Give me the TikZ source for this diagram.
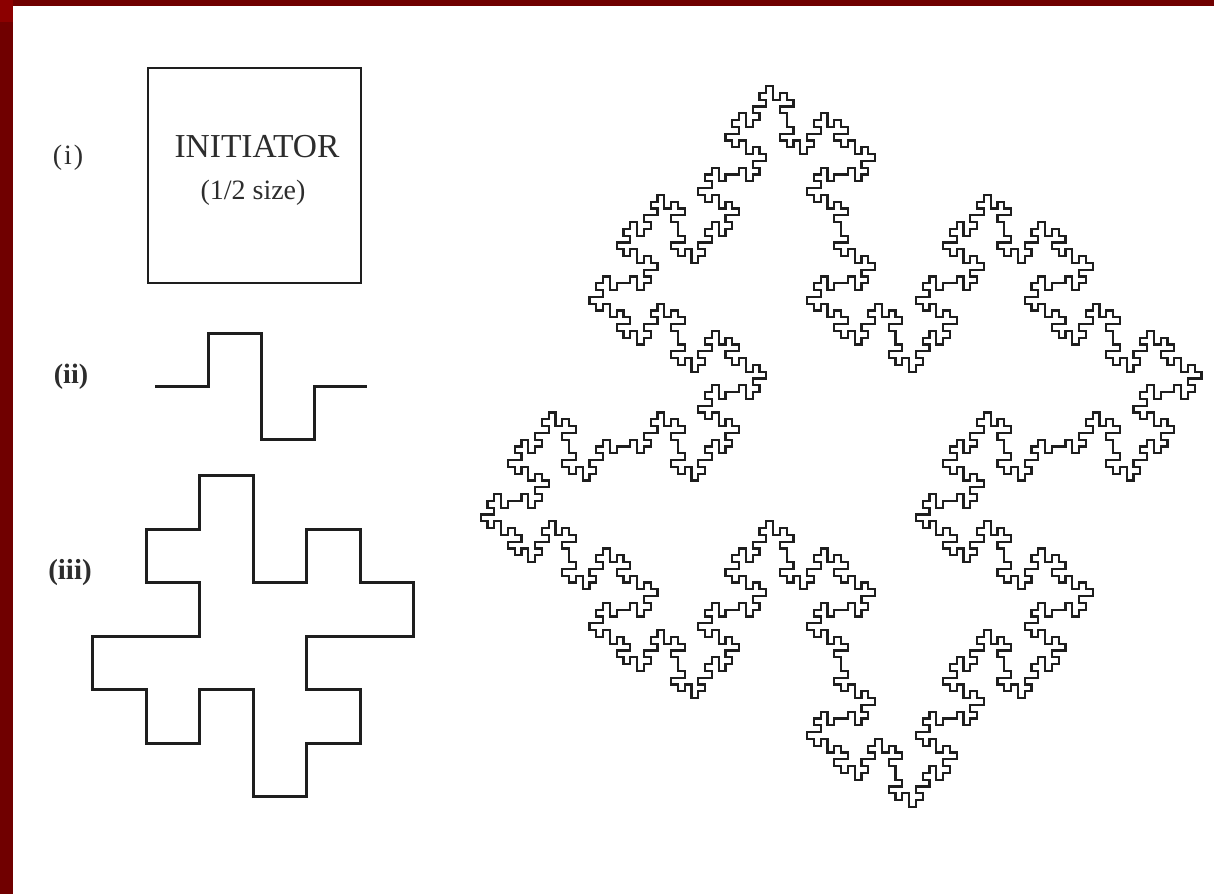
\documentclass[tikz,border=0pt]{standalone}
\usepackage{fontspec}
\setmainfont{Liberation Serif}
\definecolor{borderdark}{RGB}{112,0,0}
\definecolor{borderlight}{RGB}{140,0,0}
\definecolor{ink}{RGB}{30,30,30}
\definecolor{textink}{RGB}{45,45,45}
% --- quadratic Koch (Minkowski) curve, drawn on an integer grid ---
\newcount\fkx \newcount\fky \newcount\fkd
\newdimen\fkunit \newdimen\fkox \newdimen\fkoy
\def\fkpt{\pgfqpoint{\dimexpr\fkox+\fkunit*\fkx\relax}{\dimexpr\fkoy+\fkunit*\fky\relax}}
\def\fkL{\advance\fkd 1\relax\ifnum\fkd>3 \fkd=0 \fi}
\def\fkR{\advance\fkd -1\relax\ifnum\fkd<0 \fkd=3 \fi}
\def\fkfwd{\ifcase\fkd\advance\fkx 1\relax\or\advance\fky 1\relax\or\advance\fkx -1\relax\or\advance\fky -1\relax\fi\pgfpathlineto{\fkpt}}
\def\fkmake#1#2{\def#1{#2\fkL#2\fkR#2\fkR#2#2\fkL#2\fkL#2\fkR#2}}
\fkmake\fkFa\fkfwd
\fkmake\fkFb\fkFa
\fkmake\fkFc\fkFb
\def\fkstart#1#2#3{\fkx=0 \fky=0 \fkd=0 \fkunit=#3pt \fkox=#1pt \fkoy=-#2pt \pgfpathmoveto{\fkpt}}
\begin{document}
\begin{tikzpicture}[x=1pt,y=-1pt,
  gen line/.style={line width=3pt, color=ink, line join=miter},
  fractal line/.style={line width=2.2pt, color=ink, line join=miter},
  initbox/.style={draw=ink, line width=2.6pt, minimum width=213pt, minimum height=215pt, inner sep=0pt},
  labeltext/.style={text=textink, inner sep=0pt, font=\fontsize{28}{32}\selectfont},
  boxtext/.style={text=textink, inner sep=0pt, anchor=base}]
\useasboundingbox (0,0) rectangle (1214,894);
\fill[white] (0,0) rectangle (1214,894);
\fill[borderdark] (0,0) rectangle (1214,6);
\fill[borderdark] (0,0) rectangle (13,894);
\fill[borderlight] (0,0) rectangle (13,22);

% (i) initiator
\node[initbox] (initiator) at (254.5,175.5) {};
\node[boxtext, font=\fontsize{33.5}{38}\selectfont] (inittitle) at (257,157) {INITIATOR};
\node[boxtext, font=\fontsize{28}{32}\selectfont] (initsize) at (253,199) {(1/2 size)};
\node[labeltext] (labi) at (68,158) {(\kern2pt i\kern2pt)};

% (ii) generator
\node[labeltext, font=\fontsize{28}{32}\selectfont\bfseries] (labii) at (71,377) {(ii)};
\begin{scope}[gen line]
  \fkstart{155}{386}{53}
  \fkFa
  \pgfusepath{stroke}
\end{scope}

% (iii) first stage
\node[labeltext, font=\fontsize{29}{33}\selectfont\bfseries] (labiii) at (70,573) {(iii)};
\begin{scope}[gen line]
  \fkstart{146}{529}{53.5}
  \fkFa\fkR\fkFa\fkR\fkFa\fkR\fkFa
  \pgfpathclose
  \pgfusepath{stroke}
\end{scope}

% third stage island
\begin{scope}[fractal line]
  \fkstart{623.4}{228.9}{6.8}
  \fkFc\fkR\fkFc\fkR\fkFc\fkR\fkFc
  \pgfpathclose
  \pgfusepath{stroke}
\end{scope}
\end{tikzpicture}
\end{document}
